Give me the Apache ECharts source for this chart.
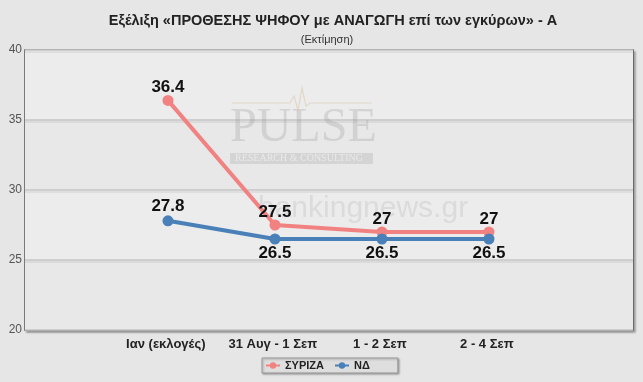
<!DOCTYPE html>
<html>
<head>
<meta charset="utf-8">
<script src="https://cdn.jsdelivr.net/npm/echarts@6/dist/echarts.min.js"></script>
<style>html,body{margin:0;padding:0;background:#e6e6e6;}#c{width:643px;height:382px;}</style>
</head>
<body>
<div id="c"></div>
<script>
var categories = ['Ιαν (εκλογές)', '31 Αυγ - 1 Σεπ', '1 - 2 Σεπ', '2 - 4 Σεπ'];
var syriza = [36.4, 27.5, 27, 27];
var nd = [27.8, 26.5, 26.5, 26.5];
var yTicks = [20, 25, 30, 35, 40];

function pairs(arr) { return arr.map(function (v, i) { return [i, v]; }); }

var chart = echarts.init(document.getElementById('c'));
chart.setOption({
  backgroundColor: '#e6e6e6',
  animation: false,
  title: [{
    text: 'Εξέλιξη «ΠΡΟΘΕΣΗΣ ΨΗΦΟΥ με ΑΝΑΓΩΓΗ επί των εγκύρων» - A',
    left: 328, top: 8, textAlign: 'center',
    textStyle: { fontFamily: 'Liberation Sans, Arial', fontSize: 14.5, fontWeight: 'bold', color: '#222' }
  }, {
    text: '(Εκτίμηση)',
    left: 322, top: 29, textAlign: 'center',
    textStyle: { fontFamily: 'Liberation Sans, Arial', fontSize: 11, fontWeight: 'normal', color: '#333' }
  }],
  grid: {
    left: 25, right: 10, top: 50, bottom: 52,
    show: true, backgroundColor: '#ebebeb', borderColor: '#555', borderWidth: 1.5,
    shadowColor: 'rgba(0,0,0,0.25)', shadowBlur: 2, shadowOffsetX: 2, shadowOffsetY: 2
  },
  graphic: [
    { type: 'text', left: 230, top: 104, z: 1, style: { text: 'PULSE', font: '48px "Liberation Serif", serif', fill: 'rgba(150,150,150,0.28)' } },
    { type: 'rect', shape: { x: 230, y: 153, width: 143, height: 11 }, z: 1, style: { fill: 'rgba(150,150,150,0.25)' } },
    { type: 'text', left: 235, top: 153, z: 1, style: { text: 'RESEARCH & CONSULTING', font: '10px "Liberation Serif", serif', fill: 'rgba(255,255,255,0.5)' } },
    { type: 'polyline', z: 1, shape: { points: [[232,103],[290,103],[294,96],[298,110],[302,88],[306,106],[310,103],[372,103]] }, style: { stroke: 'rgba(200,170,120,0.3)', lineWidth: 1.2, fill: null } },
    { type: 'text', left: 258, top: 194, z: 1, style: { text: 'bankingnews.gr', font: '30px "Liberation Sans", Arial', fill: 'rgba(160,160,160,0.22)' } }
  ],
  legend: {
    data: ['ΣΥΡΙΖΑ', 'ΝΔ'],
    left: 262, top: 358,
    backgroundColor: '#dedede', borderColor: '#999', borderWidth: 1,
    shadowColor: 'rgba(0,0,0,0.3)', shadowBlur: 2, shadowOffsetX: 1, shadowOffsetY: 1,
    padding: [2, 28, 2, 3], itemGap: 10, itemWidth: 14, itemHeight: 8,
    textStyle: { fontFamily: 'Liberation Sans, Arial', fontSize: 11, fontWeight: 'bold', color: '#222' }
  },
  xAxis: {
    type: 'value', min: -1.336, max: 4.346,
    splitLine: { show: false }, axisLine: { show: false }, axisTick: { show: false },
    axisLabel: {
      customValues: [-0.02, 0.98, 1.98, 2.98],
      margin: 8,
      formatter: function (v) { return categories[Math.round(v)] || ''; },
      fontFamily: 'Liberation Sans, Arial', fontSize: 13, fontWeight: 'bold', color: '#222'
    }
  },
  yAxis: {
    type: 'value', min: 20, max: 40, interval: 5,
    axisLine: { show: false }, axisTick: { show: false },
    axisLabel: { margin: 3, fontFamily: 'Liberation Sans, Arial', fontSize: 12, color: '#555',
      customValues: yTicks },
    splitLine: { show: true, lineStyle: { color: '#c6c6c6', width: 1.5, shadowColor: 'rgba(0,0,0,0.08)', shadowOffsetY: 2 } },
    splitArea: { show: true, areaStyle: { color: ['#e8e8e8', '#ececec'] } }
  },
  series: [{
    name: 'ΣΥΡΙΖΑ', type: 'line', data: pairs(syriza), z: 3,
    symbol: 'circle', symbolSize: 11,
    lineStyle: { color: '#f28282', width: 4 },
    itemStyle: { color: '#f28282' },
    label: { show: true, position: 'top', distance: -1,
      fontFamily: 'Liberation Sans, Arial', fontSize: 17, fontWeight: 'bold', color: '#111' }
  }, {
    name: 'ΝΔ', type: 'line', data: pairs(nd), z: 4,
    symbol: 'circle', symbolSize: 11,
    lineStyle: { color: '#4a80b8', width: 4 },
    itemStyle: { color: '#4a80b8' },
    label: { show: true, position: 'bottom', distance: 0,
      fontFamily: 'Liberation Sans, Arial', fontSize: 17, fontWeight: 'bold', color: '#111' },
    labelLayout: function (p) { return p.dataIndex === 0 ? { dy: -28 } : {}; }
  }]
});
</script>
</body>
</html>
